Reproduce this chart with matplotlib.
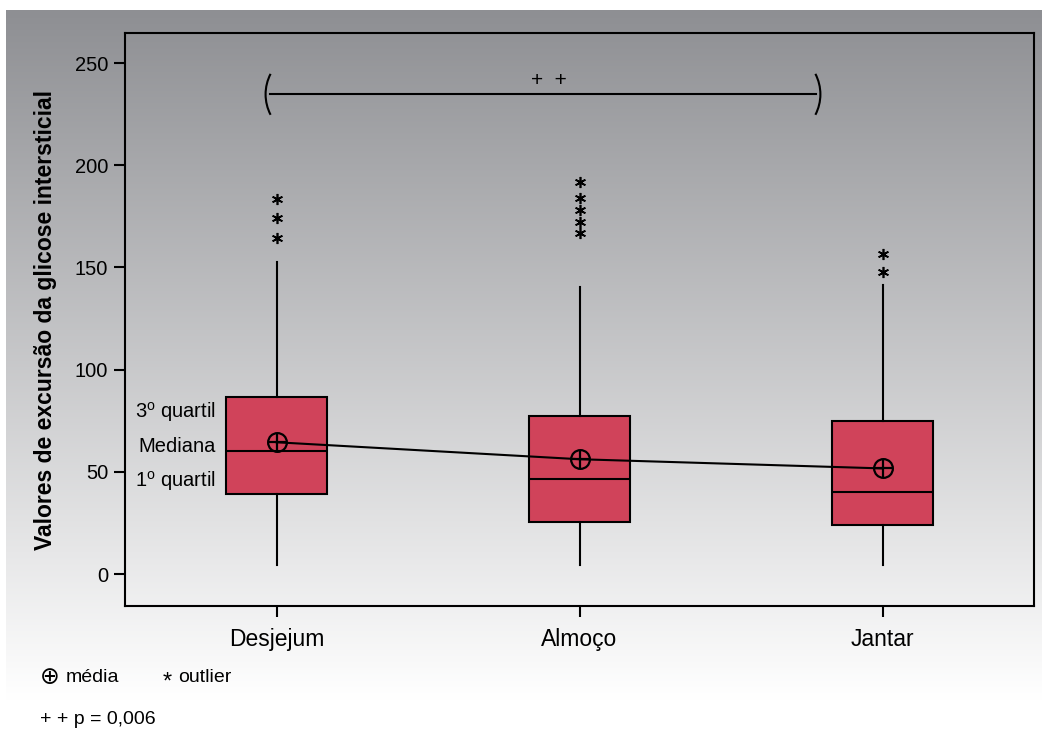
import numpy as np
import matplotlib
matplotlib.use("Agg")
from matplotlib import pyplot as plt
from matplotlib.patches import Arc

plt.rcParams['font.family'] = ['Liberation Sans', 'DejaVu Sans']
plt.rcParams['mathtext.fontset'] = 'custom'
plt.rcParams['mathtext.rm'] = 'Liberation Sans'

# data
categories = ['Desjejum', 'Almoço', 'Jantar']
q1 = [39, 25.4, 24.1]
median = [60, 46.5, 40]
q3 = [86.5, 77.3, 75]
whis_lo = [4.4, 4.4, 4.4]
whis_hi = [152.6, 140.3, 141.3]
means = [64.5, 56.2, 51.7]
outliers = [[164.3, 174, 183.5],
            [166.7, 172.3, 177.9, 184, 191.8],
            [147.8, 156.5]]
yticks = [0, 50, 100, 150, 200, 250]
bracket_y = 234.7
sig_label = '+  +'

box_color = '#D0435A'

fig = plt.figure(figsize=(10.42, 7.29), dpi=100)

# gradient background
bg = fig.add_axes([6 / 1042, 0, 1 - 6 / 1042, 1 - 10 / 729])
bg.set_axis_off()
grad = np.linspace(0, 1, 256).reshape(-1, 1)
top = np.array([142, 143, 147]) / 255.0
img = top + (1 - top) * np.clip(grad * 719 / 690, 0, 1)[..., None]
img = img.reshape(256, 1, 3)
bg.imshow(img, aspect='auto', extent=[0, 1, 0, 1], origin='upper')

ax = fig.add_axes([125 / 1042, 1 - 606 / 729, (1034 - 125) / 1042, (606 - 33) / 729])
ax.set_facecolor('none')

pos = np.arange(len(categories))
stats = []
for i in range(len(categories)):
    stats.append(dict(med=median[i], q1=q1[i], q3=q3[i], whislo=whis_lo[i],
                      whishi=whis_hi[i], fliers=[], label=categories[i]))
ax.bxp(stats, positions=pos, widths=0.335, patch_artist=True, showcaps=False,
       boxprops=dict(facecolor=box_color, edgecolor='black', linewidth=1.5),
       medianprops=dict(color='black', linewidth=1.5),
       whiskerprops=dict(color='black', linewidth=1.5))

for i, fl in enumerate(outliers):
    ax.plot([pos[i]] * len(fl), fl, linestyle='none', marker=(6, 2, 0),
            markersize=8, markeredgewidth=1.2, color='black')

# means
ax.plot(pos, means, color='black', linewidth=1.5, zorder=4)
ax.plot(pos, means, linestyle='none', marker='o', markersize=13.5, markerfacecolor='none',
        markeredgecolor='black', markeredgewidth=1.6, zorder=5)
ax.plot(pos, means, linestyle='none', marker='+', markersize=13.5,
        markeredgecolor='black', markeredgewidth=1.6, zorder=5)

# significance bracket with curved ends
ax.plot([-0.02, 1.78], [bracket_y, bracket_y], color='black', linewidth=1.5)
arc_w, arc_h = 0.294, 43.5
half = np.degrees(np.arctan(np.tan(np.radians(27.4)) * arc_h / arc_w))
ax.add_patch(Arc((0.111, bracket_y), arc_w, arc_h, theta1=180 - half, theta2=180 + half,
                 color='black', linewidth=1.5))
ax.add_patch(Arc((1.648, bracket_y), arc_w, arc_h, theta1=-half, theta2=half,
                 color='black', linewidth=1.5))
ax.text(0.9, 241.5, sig_label, ha='center', va='center', fontsize=15)

# box annotations
ax.text(-0.2, 79.4, r'3$^\mathrm{o}$ quartil', ha='right', va='center', fontsize=14.5)
ax.text(-0.2, 62.6, 'Mediana', ha='right', va='center', fontsize=14.5)
ax.text(-0.2, 45.5, r'1$^\mathrm{o}$ quartil', ha='right', va='center', fontsize=14.5)

ax.set_xlim(-0.5, 2.5)
ax.set_ylim(-15.6, 264.7)
ax.set_yticks(yticks)
ax.set_xticks(pos)
ax.set_xticklabels(categories, fontsize=16.5)
ax.tick_params(axis='y', labelsize=14.5, length=8, width=1.5, direction='out', pad=4)
ax.tick_params(axis='x', length=8, width=1.5, direction='out', pad=8)
for s in ax.spines.values():
    s.set_linewidth(1.5)
ax.set_ylabel('Valores de excursão da glicose intersticial', fontsize=16.5,
              fontweight='bold', labelpad=13)

# legend texts
fig.text(40 / 1042, 1 - 677 / 729, '⊕', fontsize=17, va='center', ha='left',
         family=['DejaVu Sans'])
fig.text(66 / 1042, 1 - 677 / 729, 'média', fontsize=14, va='center', ha='left')
fig.text(163 / 1042, 1 - 683 / 729, '*', fontsize=17, va='center', ha='left')
fig.text(178 / 1042, 1 - 678 / 729, 'outlier', fontsize=14, va='center', ha='left')
fig.text(40 / 1042, 1 - 719 / 729, '+ + p = 0,006', fontsize=14, va='center', ha='left')

fig.savefig('out.png', dpi=100)
